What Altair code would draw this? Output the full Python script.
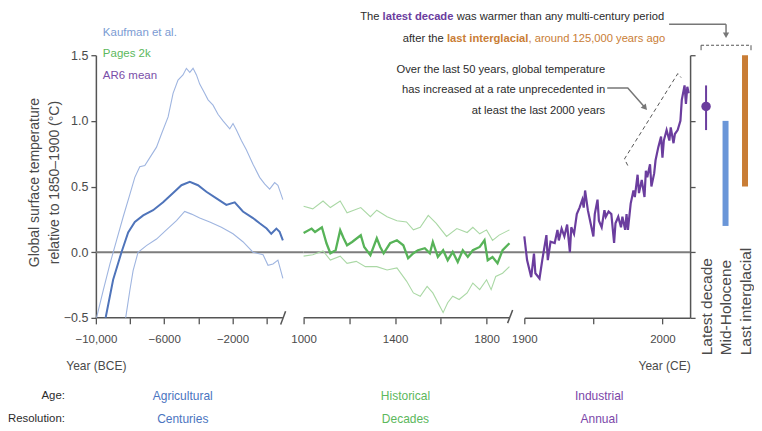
import altair as alt
import pandas as pd

FN = "Liberation Sans, Arial, Helvetica, sans-serif"
FR = "Liberation Sans, Arial, Helvetica, sans-serif"

# ---------------- data ----------------
# Kaufman et al. (Holocene, centuries)
kauf_up_year = [-10000, -9570, -9180, -8790, -8400, -8010, -7720, -7430, -7135, -6840, -6450, -6160,
                -5770, -5480, -5190, -4900, -4700, -4500, -4310, -4110, -3920, -3630, -3430, -3140,
                -2850, -2555, -2160, -1970, -1770, -1480, -1190, -800, -410, -120, 175, 470, 660, 820, 950]
kauf_up_val = [-0.52, -0.29, -0.09, 0.09, 0.27, 0.44, 0.57, 0.65, 0.66, 0.72, 0.80, 0.90,
               1.03, 1.21, 1.31, 1.35, 1.40, 1.37, 1.40, 1.35, 1.28, 1.21, 1.16, 1.12,
               1.05, 1.00, 0.94, 0.98, 0.93, 0.85, 0.78, 0.67, 0.57, 0.52, 0.48, 0.53, 0.51, 0.45, 0.40]
kauf_mid_year = [-10000, -9415, -8990, -8500, -8110, -7720, -7230, -6650, -6065, -5480, -4990, -4500,
                 -4020, -3530, -2940, -2360, -1870, -1390, -800, -410, 0, 270, 570, 760, 950]
kauf_mid_val = [-0.82, -0.49, -0.21, 0.0, 0.15, 0.23, 0.28, 0.32, 0.38, 0.45, 0.51, 0.535,
                0.51, 0.46, 0.41, 0.36, 0.38, 0.31, 0.26, 0.22, 0.18, 0.14, 0.18, 0.155, 0.09]
kauf_lo_year = [-8500, -8245, -8010, -7820, -7530, -7040, -6450, -5870, -5280, -4800, -4400, -3920,
                -3330, -2650, -1970, -1390, -800, -210, 80, 370, 660, 950]
kauf_lo_val = [-0.85, -0.49, -0.29, -0.14, 0.0, 0.05, 0.10, 0.17, 0.24, 0.31, 0.29, 0.26,
               0.23, 0.19, 0.14, 0.08, 0.0, -0.02, -0.10, -0.09, -0.06, -0.20]

# PAGES 2k (decades)
pages_mid_year = [1000, 1035, 1050, 1080, 1100, 1117, 1140, 1160, 1175, 1190, 1212, 1250, 1265, 1292,
                  1320, 1335, 1350, 1378, 1408, 1436, 1457, 1480, 1500, 1530, 1552, 1565, 1587, 1610,
                  1630, 1652, 1674, 1696, 1718, 1740, 1770, 1791, 1805, 1826, 1848, 1870, 1900]
pages_mid_val = [0.147, 0.18, 0.154, 0.19, 0.068, -0.008, 0.015, 0.167, 0.106, 0.053, 0.078, 0.129, 0.04, -0.023,
                 0.106, 0.04, -0.008, 0.068, 0.091, 0.053, -0.046, -0.008, 0.015, 0.03, -0.008, 0.078, -0.036, 0.015,
                 -0.061, 0.002, -0.074, 0.015, -0.036, 0.015, 0.04, 0.091, -0.061, -0.036, -0.084, 0.015, 0.068]
pages_up_year = [1000, 1040, 1085, 1117, 1160, 1190, 1250, 1292, 1320, 1365, 1408, 1450, 1480, 1510,
                 1545, 1580, 1625, 1670, 1715, 1740, 1770, 1800, 1826, 1855, 1900]
pages_up_val = [0.35, 0.33, 0.39, 0.34, 0.39, 0.30, 0.34, 0.27, 0.32, 0.27, 0.24, 0.23, 0.17, 0.19,
                0.28, 0.22, 0.12, 0.18, 0.15, 0.19, 0.14, 0.17, 0.09, 0.13, 0.17]
pages_lo_year = [1000, 1040, 1085, 1117, 1160, 1190, 1230, 1270, 1320, 1365, 1408, 1450, 1480, 1510,
                 1540, 1565, 1610, 1630, 1652, 1680, 1715, 1740, 1770, 1800, 1820, 1840, 1870, 1900]
pages_lo_val = [-0.03, -0.02, 0.01, -0.06, -0.03, -0.085, -0.07, -0.11, -0.11, -0.135, -0.12, -0.22, -0.31, -0.335,
                -0.26, -0.31, -0.46, -0.385, -0.335, -0.36, -0.31, -0.235, -0.285, -0.21, -0.285, -0.185, -0.16, -0.11]

# AR6 mean (annual)
ar6_year = [1900, 1902, 1905, 1907, 1908, 1911, 1913, 1916, 1917, 1919, 1922, 1924, 1925, 1927, 1929, 1931,
            1933, 1934, 1936, 1938, 1940, 1942, 1943, 1944, 1946, 1948, 1950, 1951, 1953, 1954, 1956, 1958,
            1959, 1961, 1963, 1965, 1966, 1968, 1970, 1971, 1973, 1974, 1975, 1977, 1979, 1980, 1982, 1983,
            1985, 1987, 1988, 1989, 1991, 1992, 1994, 1995, 1997, 1999, 2000, 2001, 2003, 2005, 2006, 2008,
            2009, 2011, 2013, 2014, 2016, 2017, 2018, 2019]
ar6_val = [0.12, -0.06, -0.19, -0.01, -0.16, -0.20, -0.06, 0.13, -0.06, 0.08, 0.07, 0.17, 0.09, 0.18, 0.12, 0.21,
           0.00, 0.19, 0.14, 0.29, 0.34, 0.40, 0.34, 0.47, 0.32, 0.22, 0.12, 0.29, 0.40, 0.24, 0.19, 0.32,
           0.27, 0.31, 0.29, 0.07, 0.22, 0.27, 0.19, 0.27, 0.17, 0.29, 0.17, 0.37, 0.47, 0.42, 0.59, 0.45,
           0.55, 0.42, 0.62, 0.57, 0.67, 0.50, 0.60, 0.70, 0.80, 0.88, 0.72, 0.85, 0.93, 0.85, 0.95, 0.83,
           0.90, 0.93, 1.00, 1.16, 1.27, 1.13, 1.26, 1.21]

# Comparison periods
bar_cats = ["Latest decade", "Mid-Holocene", "Last interglacial"]
bar_low = [0.93, 0.2, 0.5]
bar_high = [1.27, 1.0, 1.5]
latest_val = [1.11]

# Annotation lines (data coordinates)
trend_year = [1974.9, 1972.5, 2011.1, 2013.5]
trend_val = [0.66, 0.71, 1.36, 1.33]
arrow_year = [1960, 1974.9, 1987]
arrow_val = [1.25, 1.25, 1.105]

# Tick values and labels
kauf_ticks = [-10000, -8000, -6000, -4000, -2000, 0]
kauf_tick_labels = ["\u221210,000", "", "\u22126000", "", "\u22122000", ""]
pages_ticks = [1000, 1200, 1400, 1600, 1800]
pages_tick_labels = ["1000", "", "1400", "", "1800"]
ind_ticks = [1900, 1950, 2000]
ind_tick_labels = ["1900", "", "2000"]
temp_ticks = [-0.5, 0.0, 0.5, 1.0, 1.5]
temp_tick_labels = ["\u22120.5", "0.0", "0.5", "1.0", "1.5"]

# Texts
y_title = ["Global surface temperature", "relative to 1850\u20131900 (\u00b0C)"]
legend_names = ["Kaufman et al.", "Pages 2k", "AR6 mean"]
row_names = ["Age:", "Resolution:"]
ages = ["Agricultural", "Historical", "Industrial"]
resolutions = ["Centuries", "Decades", "Annual"]
note1 = ["The", "latest decade", "was warmer than any multi-century period"]
note2 = ["after the", "last interglacial", ", around 125,000 years ago"]
note3 = ["Over the last 50 years, global temperature",
         "has increased at a rate unprecedented in",
         "at least the last 2000 years"]

# ---------------- styling ----------------
C_KL, C_KM = "#9fb5e0", "#4f74ba"
C_GL, C_GM = "#aad8a5", "#57b358"
C_P = "#6b3d9e"
C_O = "#c97d35"
C_MH = "#6a96d8"
AX = "#555555"
TXT = "#2b2b2b"
LAB = "#4a4a4a"

YS = alt.Scale(domain=[-0.5, 1.5], nice=False, zero=False)
H = 263

# approximate Arial / Liberation Sans advance widths (per 1000 em), used to butt coloured text pieces
_REG = {' ': 278, ',': 278, '.': 278, '-': 333, ':': 278, 'a': 556, 'b': 556, 'c': 500, 'd': 556, 'e': 556,
        'f': 278, 'g': 556, 'h': 556, 'i': 222, 'j': 222, 'k': 500, 'l': 222, 'm': 833, 'n': 556, 'o': 556,
        'p': 556, 'q': 556, 'r': 333, 's': 500, 't': 278, 'u': 556, 'v': 500, 'w': 722, 'x': 500, 'y': 500,
        'z': 500, 'T': 611}
_BOLD = {' ': 278, 'a': 556, 'c': 556, 'd': 611, 'e': 556, 'g': 611, 'i': 278, 'l': 278, 'n': 611,
         'r': 389, 's': 556, 't': 333}


def tw(s, size, bold=False):
    tab = _BOLD if bold else _REG
    return sum(tab.get(ch, 556) for ch in s) * size / 1000.0


def label_expr(vals, labels):
    expr = "''"
    for v, l in reversed(list(zip(vals, labels))):
        expr = f"datum.value == {v} ? '{l}' : ({expr})"
    return expr


def xaxis(vals, labels, title=None, tx=0, domain=False):
    kw = dict(values=vals, labelExpr=label_expr(vals, labels), domain=domain, domainColor=AX,
              domainWidth=1.5, tickSize=6, tickColor=AX, tickWidth=1.3, labelPadding=10, labelFlush=False,
              labelFont=FN, labelFontSize=11.5, labelColor=LAB, grid=False)
    if title:
        kw.update(title=title, titleFont=FN, titleFontSize=12, titleFontWeight="normal",
                  titleColor=LAB, titleX=tx, titleY=48, titleAlign="center", titleBaseline="middle")
    else:
        kw.update(title=None)
    return alt.Axis(**kw)


def txt(s, x, y, color=TXT, size=11.5, font=FN, align="left", weight="normal"):
    return alt.Chart(pd.DataFrame({"t": [s]})).mark_text(
        align=align, baseline="middle", font=font, fontSize=size, color=color, fontWeight=weight
    ).encode(text="t:N", x=alt.value(x), y=alt.value(y))


def df(xs, ys):
    return pd.DataFrame({"year": xs, "val": ys, "o": list(range(len(xs)))})


# ---------------- Panel 1: Kaufman ----------------
X1 = alt.X("year:Q", scale=alt.Scale(domain=[-10000, 2164], nice=False, zero=False),
           axis=xaxis(kauf_ticks, kauf_tick_labels, "Year (BCE)", 0))
Y1 = alt.Y("val:Q", scale=YS, axis=alt.Axis(
    values=temp_ticks, labelExpr=label_expr(temp_ticks, temp_tick_labels), domainColor=AX, domainWidth=1.5,
    tickSize=5, tickColor=AX, tickWidth=1.3, labelFont=FN, labelFontSize=12.5, labelColor=LAB,
    labelPadding=3, title=y_title, titleFont=FR, titleFontSize=14, titleFontWeight="normal",
    titleColor=LAB, titleAngle=270, titleX=-54, titleY=127, titleAlign="center", titleLineHeight=20,
    titleBaseline="bottom", grid=False))

zero1 = alt.Chart(pd.DataFrame({"val": [0.0]})).mark_rule(color="#7d7d7d", strokeWidth=2).encode(y=Y1)
base1 = alt.Chart(pd.DataFrame({"year": [-10000], "year2": [950], "val": [-0.5]})).mark_rule(
    color=AX, strokeWidth=1.5).encode(x=X1, x2="year2:Q", y=Y1)
slash1 = alt.Chart(df([820, 1110], [-0.55, -0.45])).mark_line(color=AX, strokeWidth=1.5, clip=False).encode(
    x=X1, y=Y1, order="o:Q")
k_up = alt.Chart(df(kauf_up_year, kauf_up_val)).mark_line(color=C_KL, strokeWidth=1.1, clip=True).encode(
    x=X1, y=Y1, order="o:Q")
k_lo = alt.Chart(df(kauf_lo_year, kauf_lo_val)).mark_line(color=C_KL, strokeWidth=1.1, clip=True).encode(
    x=X1, y=Y1, order="o:Q")
k_mid = alt.Chart(df(kauf_mid_year, kauf_mid_val)).mark_line(color=C_KM, strokeWidth=2, clip=True).encode(
    x=X1, y=Y1, order="o:Q")

p1 = alt.layer(
    zero1, base1, slash1, k_up, k_lo, k_mid,
    txt(legend_names[0], 7, -22, "#7b9bd3", 11.5),
    txt(legend_names[1], 7, -1, "#5cb85c", 11.5),
    txt(legend_names[2], 7, 21, "#7a4ea8", 11.5),
    txt(row_names[0], -31, 341, TXT, 11.4, align="right"),
    txt(row_names[1], -31, 364, TXT, 11.4, align="right"),
    txt(ages[0], 87, 341, "#4a74c0", 12, align="center"),
    txt(resolutions[0], 87, 364, "#4a74c0", 12, align="center"),
).properties(width=208, height=H)

# ---------------- Panel 2: PAGES 2k ----------------
X2 = alt.X("year:Q", scale=alt.Scale(domain=[1000, 1965], nice=False, zero=False),
           axis=xaxis(pages_ticks, pages_tick_labels))
Y2 = alt.Y("val:Q", scale=YS, axis=None)
zero2 = alt.Chart(pd.DataFrame({"val": [0.0]})).mark_rule(color="#7d7d7d", strokeWidth=2).encode(y=Y2)
base2 = alt.Chart(pd.DataFrame({"year": [1000], "year2": [1900], "val": [-0.5]})).mark_rule(
    color=AX, strokeWidth=1.5).encode(x=X2, x2="year2:Q", y=Y2)
slash2 = alt.Chart(df([1892, 1914], [-0.54, -0.44])).mark_line(color=AX, strokeWidth=1.5, clip=False).encode(
    x=X2, y=Y2, order="o:Q")
g_up = alt.Chart(df(pages_up_year, pages_up_val)).mark_line(color=C_GL, strokeWidth=1.1).encode(
    x=X2, y=Y2, order="o:Q")
g_lo = alt.Chart(df(pages_lo_year, pages_lo_val)).mark_line(color=C_GL, strokeWidth=1.1).encode(
    x=X2, y=Y2, order="o:Q")
g_mid = alt.Chart(df(pages_mid_year, pages_mid_val)).mark_line(color=C_GM, strokeWidth=2.3).encode(
    x=X2, y=Y2, order="o:Q")
p2 = alt.layer(
    zero2, base2, slash2, g_up, g_lo, g_mid,
    txt(ages[1], 102, 341, "#5cb85c", 12, align="center"),
    txt(resolutions[1], 102, 364, "#5cb85c", 12, align="center"),
).properties(width=221, height=H)

# ---------------- Panel 3: AR6 mean ----------------
X3 = alt.X("year:Q", scale=alt.Scale(domain=[1900, 2020], nice=False, zero=False),
           axis=xaxis(ind_ticks, ind_tick_labels, "Year (CE)", 140, domain=True))
Y3 = alt.Y("val:Q", scale=YS, axis=alt.Axis(
    orient="right", values=temp_ticks, labels=False, title=None, domainColor=AX, domainWidth=1.5,
    tickSize=5, tickColor=AX, tickWidth=1.3, grid=False))
zero3 = alt.Chart(pd.DataFrame({"val": [0.0]})).mark_rule(color="#7d7d7d", strokeWidth=2).encode(y=Y3)
ar6 = alt.Chart(df(ar6_year, ar6_val)).mark_line(color=C_P, strokeWidth=2.2).encode(x=X3, y=Y3, order="o:Q")
trend = alt.Chart(df(trend_year, trend_val)).mark_line(color="#555", strokeWidth=1, strokeDash=[4, 3]).encode(
    x=X3, y=Y3, order="o:Q")
arrow = alt.Chart(df(arrow_year, arrow_val)).mark_line(color="#777", strokeWidth=1.5).encode(
    x=X3, y=Y3, order="o:Q")
arrow_head = alt.Chart(df(arrow_year[-1:], arrow_val[-1:])).mark_point(
    shape="triangle", filled=True, size=45, angle=139, color="#777", opacity=1).encode(x=X3, y=Y3)

NS = 11.2
sp = tw(" ", NS)
r3 = 140
r2 = r3 - tw(note1[2], NS) - sp
r1 = r2 - tw(note1[1], NS, True) - sp
n1 = [txt(note1[0], r1, -38, TXT, NS, align="right"),
      txt(note1[1], r2, -38, C_P, NS, align="right", weight="bold"),
      txt(note1[2], r3, -38, TXT, NS, align="right")]
q3 = 141
q2 = q3 - tw(note2[2], NS)
q1 = q2 - tw(note2[1], NS, True) - sp
n2 = [txt(note2[0], q1, -16, TXT, NS, align="right"),
      txt(note2[1], q2, -16, C_O, NS, align="right", weight="bold"),
      txt(note2[2], q3, -16, C_O, NS, align="right")]
n3 = [txt(note3[0], 81, 15, TXT, NS, align="right"), txt(note3[1], 81, 35, TXT, NS, align="right"),
      txt(note3[2], 81, 56, TXT, NS, align="right")]

p3 = alt.layer(
    zero3, ar6, trend, arrow, arrow_head, *n1, *n2, *n3,
    txt(ages[2], 75, 341, "#7b46a8", 12, align="center"),
    txt(resolutions[2], 75, 364, "#7b46a8", 12, align="center"),
).properties(width=166, height=H)

# ---------------- Panel 4: comparison periods ----------------
X4 = alt.X("cat:N", scale=alt.Scale(type="point", domain=bar_cats, range=[16, 55], padding=0),
           axis=alt.Axis(labelAngle=270, labelAlign="left", labelBaseline="middle", labelPadding=37,
                         ticks=False, tickSize=0, domain=False, title=None, labelFont=FR,
                         labelFontSize=15.5, labelColor=LAB))
colors = alt.Color("cat:N", scale=alt.Scale(domain=bar_cats, range=[C_P, C_MH, C_O]), legend=None)
bars_df = pd.DataFrame({"cat": bar_cats, "low": bar_low, "high": bar_high})
err = alt.Chart(bars_df.iloc[:1]).mark_rule(strokeWidth=2).encode(
    x=X4, y=alt.Y("low:Q", scale=YS, axis=None), y2="high:Q", color=colors)
bars = alt.Chart(bars_df.iloc[1:]).mark_rule(strokeWidth=6, strokeCap="butt").encode(
    x=X4, y=alt.Y("low:Q", scale=YS, axis=None), y2="high:Q", color=colors)
dot = alt.Chart(pd.DataFrame({"cat": bar_cats[:1], "val": latest_val})).mark_point(
    filled=True, size=90, opacity=1).encode(x=X4, y=alt.Y("val:Q", scale=YS, axis=None), color=colors)

one = pd.DataFrame({"a": [0]})
bracket = alt.Chart(one).mark_rule(color="#555", strokeWidth=1.2, strokeDash=[3, 2]).encode(
    x=alt.value(11), x2=alt.value(61), y=alt.value(-10))
bl = alt.Chart(one).mark_rule(color="#555", strokeWidth=1).encode(x=alt.value(11), y=alt.value(-10), y2=alt.value(-5))
br = alt.Chart(one).mark_rule(color="#555", strokeWidth=1).encode(x=alt.value(61), y=alt.value(-10), y2=alt.value(-5))
top_h = alt.Chart(one).mark_rule(color="#777", strokeWidth=1.5).encode(
    x=alt.value(-21), x2=alt.value(36), y=alt.value(-31))
top_v = alt.Chart(one).mark_rule(color="#777", strokeWidth=1.5).encode(
    x=alt.value(36), y=alt.value(-31), y2=alt.value(-22))
top_head = alt.Chart(one).mark_point(shape="triangle-down", filled=True, size=40, color="#777", opacity=1).encode(
    x=alt.value(36), y=alt.value(-20))

p4 = alt.layer(err, bars, dot, bracket, bl, br, top_h, top_v, top_head).properties(width=62, height=H)

chart = alt.hconcat(p1, p2, p3, p4, spacing=0, bounds="flush").properties(
    padding={"left": 0, "top": 3, "right": 0, "bottom": 0}
).configure_view(stroke=None).configure_axis(grid=False)

chart.save("out.html", embed_options={"renderer": "svg", "actions": False})
